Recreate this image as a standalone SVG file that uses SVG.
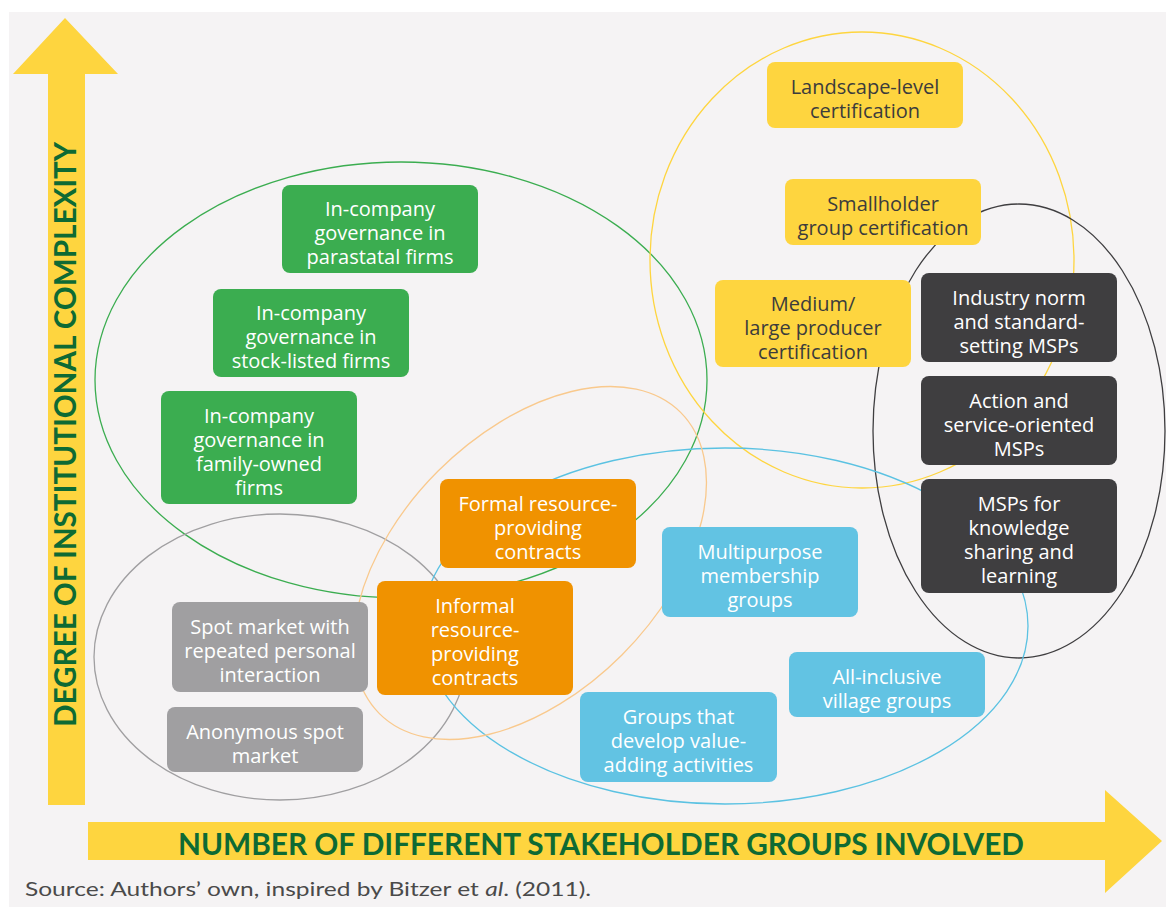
<svg xmlns="http://www.w3.org/2000/svg" width="1166" height="907" viewBox="0 0 1166 907">
<style>
.bg{fill:#f5f3f4}
.box{stroke:none}
.g{fill:#3bad50}
.y{fill:#fed53f}
.d{fill:#3f3e40}
.o{fill:#f09200}
.gr{fill:#a09fa1}
.b{fill:#62c3e3}
.t{font-family:"Open Sans",Lato,"Liberation Sans",sans-serif;font-size:20px;font-weight:500;text-anchor:middle;fill:#ffffff}
.td{fill:#3c3c3c}
.ax{fill:#fed53f}
.axt{font-family:Lato,"Liberation Sans",sans-serif;font-weight:bold;font-size:30px;fill:#0e6a34}
.el{fill:none;stroke-width:1.3}
</style>
<rect class="bg" x="9" y="12" width="1157" height="895"/>
<g id="axes">
<polygon class="ax" points="65,18 118,74 85,74 85,805 48,805 48,74 13,74"/>
<polygon class="ax" points="88,822 1105,822 1105,790 1162,841 1105,893 1105,860 88,860"/>
<text class="axt" transform="translate(76,727) rotate(-90)" textLength="585" lengthAdjust="spacingAndGlyphs">DEGREE OF INSTITUTIONAL COMPLEXITY</text>
<text class="axt" x="178" y="855" textLength="846" lengthAdjust="spacingAndGlyphs">NUMBER OF DIFFERENT STAKEHOLDER GROUPS INVOLVED</text>
</g>
<g id="connectors">
<ellipse class="el" cx="401" cy="380" rx="306" ry="218" stroke="#3bad50"/>
<ellipse class="el" cx="862" cy="260" rx="212" ry="228" stroke="#fed53f"/>
<ellipse class="el" cx="1019" cy="431" rx="146" ry="227" stroke="#3f3e40"/>
<ellipse class="el" cx="280" cy="657" rx="186" ry="143" stroke="#a09fa1"/>
<ellipse class="el" cx="725" cy="626" rx="303" ry="178" stroke="#5bc2e2"/>
<ellipse class="el" cx="0" cy="0" rx="213" ry="130" stroke="#f9c98d" transform="translate(530,563) rotate(-45)"/>
</g>
<g id="n1"><rect class="box g" x="282" y="185" width="196" height="88" rx="8"/>
<text class="t" x="380" y="216">In-company</text><text class="t" x="380" y="240">governance in</text><text class="t" x="380" y="264">parastatal firms</text></g>
<g id="n2"><rect class="box g" x="213" y="289" width="196" height="88" rx="8"/>
<text class="t" x="311" y="320">In-company</text><text class="t" x="311" y="344">governance in</text><text class="t" x="311" y="368">stock-listed firms</text></g>
<g id="n3"><rect class="box g" x="161" y="391" width="196" height="113" rx="8"/>
<text class="t" x="259" y="422.5">In-company</text><text class="t" x="259" y="446.5">governance in</text><text class="t" x="259" y="470.5">family-owned</text><text class="t" x="259" y="494.5">firms</text></g>
<g id="n4"><rect class="box y" x="767" y="62" width="196" height="66" rx="8"/>
<text class="t td" x="865" y="94">Landscape-level</text><text class="t td" x="865" y="118">certification</text></g>
<g id="n5"><rect class="box y" x="785" y="179" width="196" height="66" rx="8"/>
<text class="t td" x="883" y="211">Smallholder</text><text class="t td" x="883" y="235">group certification</text></g>
<g id="n6"><rect class="box y" x="715" y="280" width="196" height="87" rx="8"/>
<text class="t td" x="813" y="310.5">Medium/</text><text class="t td" x="813" y="334.5">large producer</text><text class="t td" x="813" y="358.5">certification</text></g>
<g id="n7"><rect class="box d" x="921" y="273" width="196" height="89" rx="8"/>
<text class="t" x="1019" y="304.5">Industry norm</text><text class="t" x="1019" y="328.5">and standard-</text><text class="t" x="1019" y="352.5">setting MSPs</text></g>
<g id="n8"><rect class="box d" x="921" y="376" width="196" height="89" rx="8"/>
<text class="t" x="1019" y="407.5">Action and</text><text class="t" x="1019" y="431.5">service-oriented</text><text class="t" x="1019" y="455.5">MSPs</text></g>
<g id="n9"><rect class="box d" x="921" y="479" width="196" height="114" rx="8"/>
<text class="t" x="1019" y="511">MSPs for</text><text class="t" x="1019" y="535">knowledge</text><text class="t" x="1019" y="559">sharing and</text><text class="t" x="1019" y="583">learning</text></g>
<g id="n10"><rect class="box o" x="440" y="479" width="196" height="89" rx="8"/>
<text class="t" x="538" y="510.5">Formal resource-</text><text class="t" x="538" y="534.5">providing</text><text class="t" x="538" y="558.5">contracts</text></g>
<g id="n11"><rect class="box o" x="377" y="581" width="196" height="114" rx="8"/>
<text class="t" x="475" y="613">Informal</text><text class="t" x="475" y="637">resource-</text><text class="t" x="475" y="661">providing</text><text class="t" x="475" y="685">contracts</text></g>
<g id="n12"><rect class="box gr" x="172" y="602" width="196" height="90" rx="8"/>
<text class="t" x="270" y="634">Spot market with</text><text class="t" x="270" y="658">repeated personal</text><text class="t" x="270" y="682">interaction</text></g>
<g id="n13"><rect class="box gr" x="167" y="707" width="196" height="65" rx="8"/>
<text class="t" x="265" y="738.5">Anonymous spot</text><text class="t" x="265" y="762.5">market</text></g>
<g id="n14"><rect class="box b" x="662" y="527" width="196" height="90" rx="8"/>
<text class="t" x="760" y="559">Multipurpose</text><text class="t" x="760" y="583">membership</text><text class="t" x="760" y="607">groups</text></g>
<g id="n15"><rect class="box b" x="789" y="652" width="196" height="65" rx="8"/>
<text class="t" x="887" y="683.5">All-inclusive</text><text class="t" x="887" y="707.5">village groups</text></g>
<g id="n16"><rect class="box b" x="580" y="692" width="197" height="90" rx="8"/>
<text class="t" x="678.5" y="724">Groups that</text><text class="t" x="678.5" y="748">develop value-</text><text class="t" x="678.5" y="772">adding activities</text></g>
<text x="25" y="896" font-family="Lato,'Liberation Sans',sans-serif" font-size="20" fill="#4a4a4a" textLength="566" lengthAdjust="spacingAndGlyphs">Source: Authors’ own, inspired by Bitzer et <tspan font-style="italic">al</tspan>. (2011).</text>
</svg>
